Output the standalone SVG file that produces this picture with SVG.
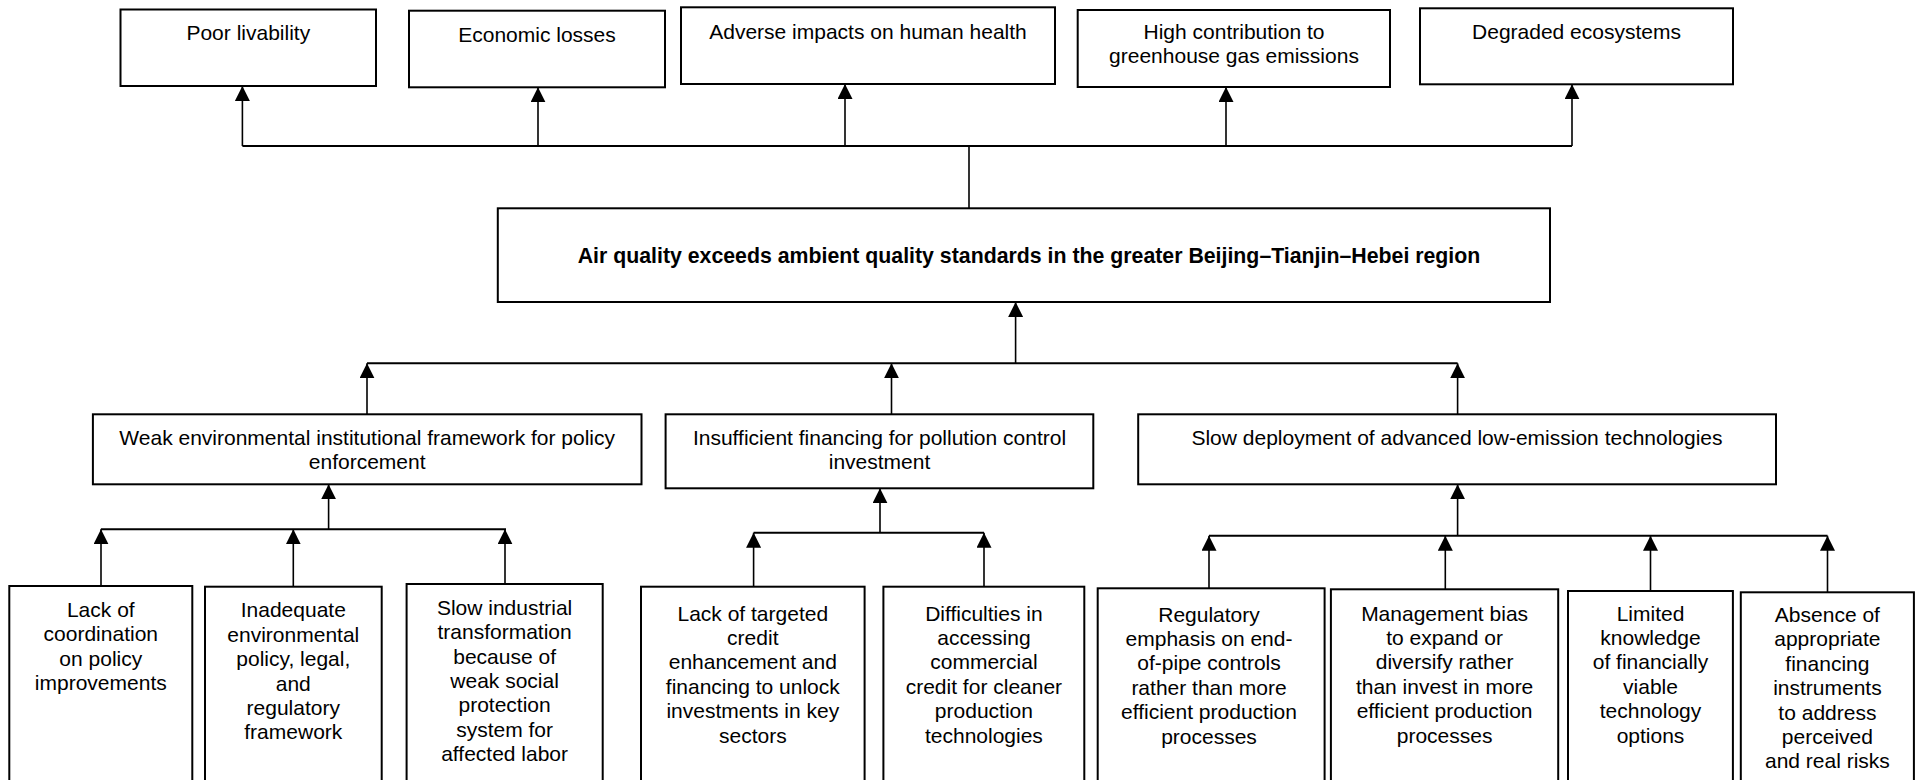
<svg xmlns="http://www.w3.org/2000/svg" width="1921" height="780" viewBox="0 0 1921 780">
<style>
.box{fill:#fff;stroke:#000;stroke-width:2}
.t{font-family:"Liberation Sans",Arial,sans-serif;font-size:21px;fill:#000;text-anchor:middle}
.b{font-weight:bold;font-size:21.3px}
.h{fill:none;stroke:#000;stroke-width:2}
.v{fill:none;stroke:#000;stroke-width:1.6}
.a{fill:none;stroke:#000;stroke-width:1.6;marker-end:url(#arr)}
</style>
<defs>
<marker id="arr" markerUnits="userSpaceOnUse" markerWidth="15" markerHeight="15" refX="15" refY="7.5" orient="auto" viewBox="0 0 15 15">
<path d="M0,0 L15,7.5 L0,15 z" fill="#000"/>
</marker>
</defs>
<rect width="1921" height="780" fill="#fff"/>

<g id="connectors">
<!-- top level -->
<line class="h" x1="242.4" y1="146" x2="1572" y2="146"/>
<line class="v" x1="969" y1="208" x2="969" y2="146"/>
<line class="a" x1="242.4" y1="146" x2="242.4" y2="86"/>
<line class="a" x1="538" y1="146" x2="538" y2="87.3"/>
<line class="a" x1="845" y1="146" x2="845" y2="84"/>
<line class="a" x1="1226" y1="146" x2="1226" y2="87"/>
<line class="a" x1="1572" y1="146" x2="1572" y2="84.3"/>
<!-- middle -->
<line class="a" x1="1015.6" y1="363.3" x2="1015.6" y2="302"/>
<line class="h" x1="367" y1="363.3" x2="1457.6" y2="363.3"/>
<line class="a" x1="367" y1="414.3" x2="367" y2="363.3"/>
<line class="a" x1="891.5" y1="414.3" x2="891.5" y2="363.3"/>
<line class="a" x1="1457.6" y1="414.3" x2="1457.6" y2="363.3"/>
<!-- group A -->
<line class="a" x1="328.6" y1="529.3" x2="328.6" y2="484.3"/>
<line class="h" x1="100.9" y1="529.3" x2="506" y2="529.3"/>
<line class="a" x1="101" y1="586" x2="101" y2="529.3"/>
<line class="a" x1="293.3" y1="586.7" x2="293.3" y2="529.3"/>
<line class="a" x1="505" y1="584" x2="505" y2="529.3"/>
<!-- group B -->
<line class="a" x1="880" y1="532.7" x2="880" y2="488.3"/>
<line class="h" x1="753.6" y1="532.7" x2="984" y2="532.7"/>
<line class="a" x1="753.6" y1="586.7" x2="753.6" y2="532.7"/>
<line class="a" x1="984" y1="586.7" x2="984" y2="532.7"/>
<!-- group C -->
<line class="a" x1="1457.6" y1="535.7" x2="1457.6" y2="484.3"/>
<line class="h" x1="1209" y1="535.7" x2="1827.5" y2="535.7"/>
<line class="a" x1="1209" y1="588.3" x2="1209" y2="535.7"/>
<line class="a" x1="1445.3" y1="589.3" x2="1445.3" y2="535.7"/>
<line class="a" x1="1650.5" y1="591" x2="1650.5" y2="535.7"/>
<line class="a" x1="1827.5" y1="592.3" x2="1827.5" y2="535.7"/>
</g>

<g id="n-poor-livability">
<rect class="box" x="120.5" y="9.5" width="255.5" height="76.5"/>
<text class="t" x="248.3" y="40">Poor livability</text>
</g>
<g id="n-economic-losses">
<rect class="box" x="409" y="10.7" width="256" height="76.6"/>
<text class="t" x="537" y="42">Economic losses</text>
</g>
<g id="n-human-health">
<rect class="box" x="681" y="7.3" width="374" height="76.7"/>
<text class="t" x="868" y="38.5">Adverse impacts on human health</text>
</g>
<g id="n-ghg">
<rect class="box" x="1077.7" y="10" width="312.3" height="77"/>
<text class="t" x="1234" y="39">High contribution to</text>
<text class="t" x="1234" y="63">greenhouse gas emissions</text>
</g>
<g id="n-ecosystems">
<rect class="box" x="1420" y="8.3" width="313" height="76"/>
<text class="t" x="1576.5" y="38.5">Degraded ecosystems</text>
</g>

<g id="n-core">
<rect class="box" x="497.8" y="208.3" width="1052.2" height="93.7"/>
<text class="t b" x="1029" y="263.3">Air quality exceeds ambient quality standards in the greater Beijing–Tianjin–Hebei region</text>
</g>

<g id="n-weak-framework">
<rect class="box" x="92.9" y="414.3" width="548.6" height="70"/>
<text class="t" x="367.2" y="445">Weak environmental institutional framework for policy</text>
<text class="t" x="367.2" y="469">enforcement</text>
</g>
<g id="n-insufficient-financing">
<rect class="box" x="665.6" y="414.3" width="427.7" height="74"/>
<text class="t" x="879.5" y="445">Insufficient financing for pollution control</text>
<text class="t" x="879.5" y="469">investment</text>
</g>
<g id="n-slow-deployment">
<rect class="box" x="1138.2" y="414.3" width="637.8" height="70"/>
<text class="t" x="1457" y="445">Slow deployment of advanced low-emission technologies</text>
</g>

<g id="n-coordination">
<rect class="box" x="9.3" y="586" width="183" height="210"/>
<text class="t" x="100.8" y="617">Lack of</text>
<text class="t" x="100.8" y="641.4">coordination</text>
<text class="t" x="100.8" y="665.8">on policy</text>
<text class="t" x="100.8" y="690.2">improvements</text>
</g>
<g id="n-inadequate-policy">
<rect class="box" x="205" y="586.7" width="176.7" height="210"/>
<text class="t" x="293.3" y="617.3">Inadequate</text>
<text class="t" x="293.3" y="641.7">environmental</text>
<text class="t" x="293.3" y="666.1">policy, legal,</text>
<text class="t" x="293.3" y="690.5">and</text>
<text class="t" x="293.3" y="714.9">regulatory</text>
<text class="t" x="293.3" y="739.3">framework</text>
</g>
<g id="n-slow-industrial">
<rect class="box" x="406.6" y="584" width="196.1" height="210"/>
<text class="t" x="504.6" y="615">Slow industrial</text>
<text class="t" x="504.6" y="639.3">transformation</text>
<text class="t" x="504.6" y="663.6">because of</text>
<text class="t" x="504.6" y="687.9">weak social</text>
<text class="t" x="504.6" y="712.2">protection</text>
<text class="t" x="504.6" y="736.5">system for</text>
<text class="t" x="504.6" y="760.8">affected labor</text>
</g>
<g id="n-targeted-credit">
<rect class="box" x="641" y="586.7" width="223.6" height="210"/>
<text class="t" x="752.8" y="620.5">Lack of targeted</text>
<text class="t" x="752.8" y="644.9">credit</text>
<text class="t" x="752.8" y="669.3">enhancement and</text>
<text class="t" x="752.8" y="693.7">financing to unlock</text>
<text class="t" x="752.8" y="718.1">investments in key</text>
<text class="t" x="752.8" y="742.5">sectors</text>
</g>
<g id="n-commercial-credit">
<rect class="box" x="883.4" y="586.7" width="200.9" height="210"/>
<text class="t" x="983.9" y="620.5">Difficulties in</text>
<text class="t" x="983.9" y="644.9">accessing</text>
<text class="t" x="983.9" y="669.3">commercial</text>
<text class="t" x="983.9" y="693.7">credit for cleaner</text>
<text class="t" x="983.9" y="718.1">production</text>
<text class="t" x="983.9" y="742.5">technologies</text>
</g>
<g id="n-end-of-pipe">
<rect class="box" x="1097.7" y="588.3" width="226.9" height="210"/>
<text class="t" x="1209" y="621.5">Regulatory</text>
<text class="t" x="1209" y="645.9">emphasis on end-</text>
<text class="t" x="1209" y="670.3">of-pipe controls</text>
<text class="t" x="1209" y="694.7">rather than more</text>
<text class="t" x="1209" y="719.1">efficient production</text>
<text class="t" x="1209" y="743.5">processes</text>
</g>
<g id="n-management-bias">
<rect class="box" x="1330.9" y="589.3" width="227.3" height="210"/>
<text class="t" x="1444.6" y="620.5">Management bias</text>
<text class="t" x="1444.6" y="644.9">to expand or</text>
<text class="t" x="1444.6" y="669.3">diversify rather</text>
<text class="t" x="1444.6" y="693.7">than invest in more</text>
<text class="t" x="1444.6" y="718.1">efficient production</text>
<text class="t" x="1444.6" y="742.5">processes</text>
</g>
<g id="n-limited-knowledge">
<rect class="box" x="1568" y="591" width="164.9" height="210"/>
<text class="t" x="1650.5" y="620.5">Limited</text>
<text class="t" x="1650.5" y="644.9">knowledge</text>
<text class="t" x="1650.5" y="669.3">of financially</text>
<text class="t" x="1650.5" y="693.7">viable</text>
<text class="t" x="1650.5" y="718.1">technology</text>
<text class="t" x="1650.5" y="742.5">options</text>
</g>
<g id="n-financing-instruments">
<rect class="box" x="1740.8" y="592.3" width="173.1" height="210"/>
<text class="t" x="1827.4" y="622">Absence of</text>
<text class="t" x="1827.4" y="646.4">appropriate</text>
<text class="t" x="1827.4" y="670.8">financing</text>
<text class="t" x="1827.4" y="695.2">instruments</text>
<text class="t" x="1827.4" y="719.6">to address</text>
<text class="t" x="1827.4" y="744">perceived</text>
<text class="t" x="1827.4" y="768.4">and real risks</text>
</g>
</svg>
